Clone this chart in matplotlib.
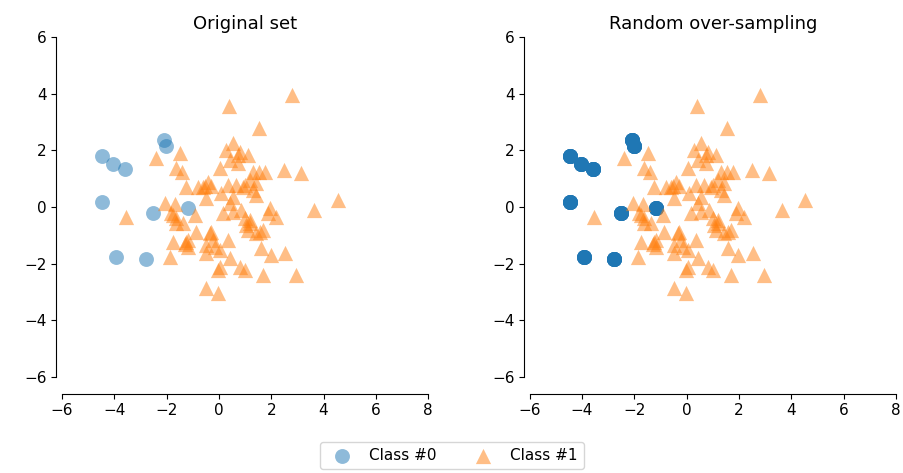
import numpy as np
import matplotlib
matplotlib.use("Agg")
import matplotlib.pyplot as plt

# minority class (Class #0)
class0_x = [-4.47, -4.05, -3.59, -4.47, -3.93, -2.79, -2.10, -2.02, -2.52, -1.18]
class0_y = [1.80, 1.52, 1.34, 0.18, -1.77, -1.84, 2.37, 2.16, -0.21, -0.04]
# how many copies of each minority sample after random over-sampling
class0_counts = [9, 8, 10, 9, 8, 10, 9, 9, 9, 9]

# majority class (Class #1)
class1_x = [0.38, 2.79, 1.55, 0.55, -2.40, -1.49, -1.64, -1.41, 0.80, 0.73,
            1.11, 0.42, 0.04, 0.73, -1.26, -0.61, -0.42, -0.50, -2.06, -1.68,
            -3.55, -1.76, -1.64, -1.37, -0.92, -0.88, -1.76, -1.26, -1.18, -1.87,
            -0.50, -0.34, -0.50, -0.52, -0.31, 0.34, 0.65, 0.99, 0.08, 0.53,
            0.42, -1.83, -1.64, 0.15, 0.53, 0.84, 0.99, 1.18, 1.11, -0.31,
            -0.23, 0.34, -0.50, -0.15, 0.04, 0.42, 0.04, -0.04, 0.80, -1.18,
            -1.30, -0.04, 1.30, 1.55, 1.76, 2.48, 3.13, 1.18, 1.41, 4.54,
            3.63, 1.95, 1.87, 2.18, 1.18, 1.03, 1.68, 1.57, 1.41, 1.60,
            1.98, 2.52, 1.68, 2.94, 0.99, 1.30, 1.41, 0.92, -0.80, 0.27]
class1_y = [3.55, 3.94, 2.79, 2.26, 1.73, 1.91, 1.38, 1.24, 1.94, 1.84,
            1.84, 1.66, 1.38, 1.55, 0.72, 0.71, 0.88, 0.32, 0.14, 0.12,
            -0.35, -0.28, -0.57, -0.57, -0.28, -0.88, -1.24, -1.24, -1.41, -1.77,
            -1.63, -0.92, -2.86, 0.75, 0.75, 0.78, 0.78, 0.78, 0.49, 0.35,
            0.14, -0.21, -0.39, -0.21, -0.18, -0.11, -0.39, -0.57, -0.81, -0.88,
            -1.17, -1.17, -1.34, -1.41, -1.52, -1.80, -2.12, -2.23, -2.12, -1.17,
            -1.30, -3.04, 1.24, 1.24, 1.24, 1.31, 1.20, 0.95, 0.85, 0.25,
            -0.11, -0.04, -0.21, -0.35, -0.46, -0.64, -0.81, -0.88, -0.92, -1.45,
            -1.70, -1.63, -2.40, -2.40, -2.23, 0.60, 0.42, 0.70, 0.70, 2.00]

titles = ["Original set", "Random over-sampling"]
x_ticks = [-6, -4, -2, 0, 2, 4, 6, 8]
y_ticks = [-6, -4, -2, 0, 2, 4, 6]


def despine(ax):
    ax.spines["top"].set_visible(False)
    ax.spines["right"].set_visible(False)
    ax.spines["left"].set_position(("outward", 4))
    ax.spines["bottom"].set_position(("outward", 12))
    ax.set_xlim(-6, 8)
    ax.set_ylim(-6, 6)
    ax.set_xticks(x_ticks)
    ax.set_yticks(y_ticks)
    ax.tick_params(labelsize=11)


fig = plt.figure(figsize=(9.04, 4.73), dpi=100)
ax1 = fig.add_axes([0.0686, 0.203, 0.405, 0.719])
ax2 = fig.add_axes([0.586, 0.203, 0.405, 0.719])

c0 = ax1.scatter(class0_x, class0_y, s=115, alpha=0.5, color="tab:blue",
                 label="Class #0", linewidths=0)
c1 = ax1.scatter(class1_x, class1_y, s=120, marker="^", alpha=0.5,
                 color="tab:orange", label="Class #1", linewidths=0)

res_x = np.repeat(class0_x, class0_counts)
res_y = np.repeat(class0_y, class0_counts)
ax2.scatter(res_x, res_y, s=115, alpha=0.5, color="tab:blue", linewidths=0)
ax2.scatter(class1_x, class1_y, s=120, marker="^", alpha=0.5,
            color="tab:orange", linewidths=0)

for ax, t in zip([ax1, ax2], titles):
    ax.set_title(t, fontsize=13)
    despine(ax)

fig.legend((c0, c1), ("Class #0", "Class #1"), loc="lower center", ncol=2,
           fontsize=11, bbox_to_anchor=(0.5, -0.008), labelspacing=0.)

fig.savefig("out.png", dpi=100)
